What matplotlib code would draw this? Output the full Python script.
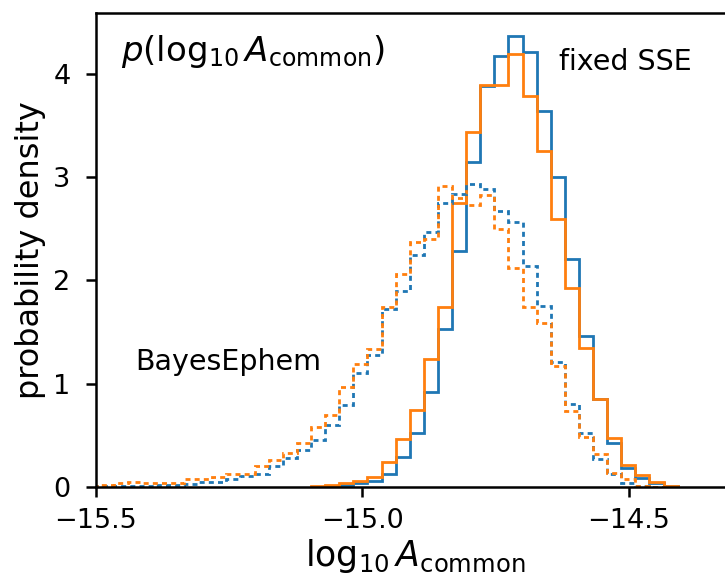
import matplotlib
matplotlib.use("Agg")
import matplotlib.pyplot as plt
import numpy as np

# shared histogram bins
binLo = -15.519
binHi = -14.4085
nBins = 42
edges = np.linspace(binLo, binHi, nBins + 1)

# fixed SSE posteriors (bins 16..41)
fixedStart = 16
fixedBlue = [0.003, 0.01, 0.02, 0.04, 0.06, 0.126, 0.29, 0.526, 0.923, 1.53,
             2.29, 3.15, 3.88, 4.17, 4.37, 4.21, 3.64, 3.00, 2.21, 1.46,
             0.85, 0.43, 0.18, 0.09, 0.035, 0.005]
fixedOrange = [0.007, 0.02, 0.04, 0.06, 0.10, 0.245, 0.465, 0.745, 1.236, 1.74,
               2.75, 3.44, 3.89, 3.89, 4.19, 3.79, 3.25, 2.60, 1.93, 1.35,
               0.85, 0.47, 0.21, 0.115, 0.045, 0.013]

# BayesEphem posteriors (bins 0..40)
bayesBlue = [0.01, 0.01, 0.01, 0.01, 0.012, 0.015, 0.015, 0.03, 0.05, 0.05,
             0.075, 0.106, 0.13, 0.20, 0.28, 0.36, 0.455, 0.60, 0.79, 1.10,
             1.28, 1.72, 1.90, 2.25, 2.47, 2.75, 2.84, 2.93, 2.89, 2.67,
             2.57, 2.14, 1.75, 1.21, 0.80, 0.52, 0.27, 0.126, 0.04, 0.01,
             0.003]
bayesOrange = [0.01, 0.02, 0.035, 0.045, 0.04, 0.035, 0.04, 0.075, 0.075, 0.10,
               0.125, 0.125, 0.20, 0.26, 0.33, 0.43, 0.58, 0.70, 0.97, 1.19,
               1.34, 1.745, 2.06, 2.375, 2.40, 2.91, 2.80, 2.73, 2.83, 2.50,
               2.12, 1.745, 1.585, 1.17, 0.74, 0.48, 0.32, 0.14, 0.075, 0.01,
               0.003]

xTicks = [-15.5, -15.0, -14.5]
yTicks = [0, 1, 2, 3, 4]

blue = "#1f77b4"
orange = "#ff7f0e"
dotted = (0, (1.8, 1.5))

fig = plt.figure(figsize=(7.25, 5.81), dpi=100)
ax = fig.add_axes([95.5 / 725, 94 / 581, 640 / 725, 474 / 581])

fe = edges[fixedStart:fixedStart + len(fixedBlue) + 1]
ax.stairs(fixedBlue, fe, color=blue, lw=2.0)
ax.stairs(fixedOrange, fe, color=orange, lw=2.0)

be = edges[:len(bayesBlue) + 1]
ax.stairs(bayesBlue, be, color=blue, lw=2.0, ls=dotted)
ax.stairs(bayesOrange, be, color=orange, lw=2.0, ls=dotted)

ax.set_xlim(-15.5, -14.3)
ax.set_ylim(0, 4.59)
ax.set_xticks(xTicks)
ax.set_xticklabels(["\u221215.5", "\u221215.0", "\u221214.5"])
ax.set_yticks(yTicks)

for s in ax.spines.values():
    s.set_linewidth(1.8)
ax.tick_params(labelsize=19.5, length=7, width=1.8)
ax.tick_params(axis="x", pad=8)
ax.tick_params(axis="y", pad=11)

ax.set_xlabel(r"$\log_{10}A_{\rm common}$", fontsize=25, labelpad=2)
ax.set_ylabel("probability density", fontsize=23, labelpad=5)

ax.text(0.040, 0.918, r"$p(\log_{10}A_{\rm common})$", transform=ax.transAxes,
        fontsize=24.5, va="center", ha="left")
ax.text(0.724, 0.897, "fixed SSE", transform=ax.transAxes,
        fontsize=20.5, va="center", ha="left")
ax.text(0.062, 0.264, "BayesEphem", transform=ax.transAxes,
        fontsize=20.5, va="center", ha="left")

fig.savefig("out.png", dpi=100)
